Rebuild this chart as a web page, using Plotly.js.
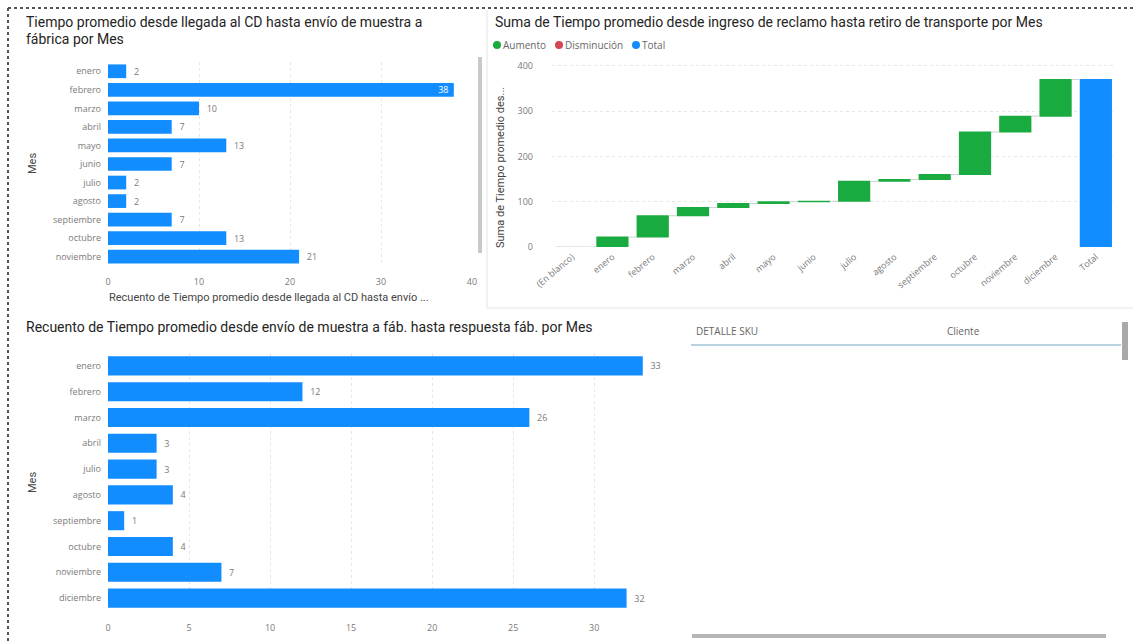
<!DOCTYPE html>
<html>
<head>
<meta charset="utf-8">
<script src="https://cdn.plot.ly/plotly-3.0.1.min.js"></script>
<style>
  html, body { margin: 0; padding: 0; background: #ffffff; }
  #tablero { width: 1133px; height: 642px; }
</style>
</head>
<body>
<div id="tablero"></div>
<script>
// Tiempo promedio desde llegada al CD hasta envío de muestra a fábrica
const mesesLlegada = ['enero', 'febrero', 'marzo', 'abril', 'mayo', 'junio', 'julio', 'agosto', 'septiembre', 'octubre', 'noviembre'];
const recuentoLlegada = [2, 38, 10, 7, 13, 7, 2, 2, 7, 13, 21];

// Suma de tiempo promedio desde ingreso de reclamo hasta retiro de transporte
const mesesReclamo = ['(En blanco)', 'enero', 'febrero', 'marzo', 'abril', 'mayo', 'junio', 'julio', 'agosto', 'septiembre', 'octubre', 'noviembre', 'diciembre'];
const sumaReclamo = [0, 22, 47, 18, 9, 4, 1, 44, 4, 11, 94, 35, 81];
const etiquetaTotal = 'Total';
const leyendaCascada = ['Aumento', 'Disminución', 'Total'];

// Recuento de tiempo promedio desde envío de muestra a fábrica hasta respuesta
const mesesRespuesta = ['enero', 'febrero', 'marzo', 'abril', 'julio', 'agosto', 'septiembre', 'octubre', 'noviembre', 'diciembre'];
const recuentoRespuesta = [33, 12, 26, 3, 3, 4, 1, 4, 7, 32];

// Columnas de la tabla de detalle
const columnasDetalle = ['DETALLE SKU', 'Cliente'];

// ---- geometry helpers (pixels -> paper) ----
const W = 1133, H = 642;
const px = x => x / W;
const py = y => 1 - y / H;

const AZUL = '#118DFF';
const VERDE = '#1AAB40';
const ROJO = '#D64554';
const GRIS_TXT = '#7a7a7a';
const TITULO = { family: 'Roboto, "Open Sans", sans-serif', size: 14, color: '#252423' };
const TICKS = { family: '"Open Sans", sans-serif', size: 9, color: GRIS_TXT };
const ETIQUETA = { family: '"Open Sans", sans-serif', size: 9, color: GRIS_TXT };

const total = sumaReclamo.reduce((a, b) => a + b, 0);
const xCascada = mesesReclamo.concat([etiquetaTotal]);
const yCascada = sumaReclamo.concat([total]);
const medidas = sumaReclamo.map(() => 'relative').concat(['total']);

const maxLlegada = 40;
const posLlegada = recuentoLlegada.map(v => (v / maxLlegada > 0.9 ? 'inside' : 'outside'));
const textoLlegada = recuentoLlegada.map((v, i) => (posLlegada[i] === 'inside' ? String(v) + '\u00a0' : '\u00a0\u00a0' + v));

const traces = [
  {
    type: 'bar', orientation: 'h',
    x: recuentoLlegada, y: mesesLlegada,
    xaxis: 'x', yaxis: 'y',
    marker: { color: AZUL },
    text: textoLlegada,
    textposition: posLlegada,
    textangle: 0,
    constraintext: 'none',
    insidetextanchor: 'end',
    insidetextfont: { family: '"Open Sans", sans-serif', size: 9, color: '#ffffff' },
    outsidetextfont: ETIQUETA,
    cliponaxis: false,
    hoverinfo: 'skip'
  },
  {
    type: 'waterfall',
    x: xCascada, y: yCascada, measure: medidas,
    xaxis: 'x2', yaxis: 'y2',
    increasing: { marker: { color: VERDE } },
    decreasing: { marker: { color: ROJO } },
    totals: { marker: { color: AZUL } },
    connector: { line: { color: '#cfcfcf', width: 1 }, mode: 'between' },
    textinfo: 'none',
    hoverinfo: 'skip'
  },
  {
    type: 'bar', orientation: 'h',
    x: recuentoRespuesta, y: mesesRespuesta,
    xaxis: 'x3', yaxis: 'y3',
    marker: { color: AZUL },
    text: recuentoRespuesta.map(v => '\u00a0\u00a0' + v),
    textposition: 'outside',
    textangle: 0,
    constraintext: 'none',
    outsidetextfont: ETIQUETA,
    cliponaxis: false,
    hoverinfo: 'skip'
  }
];

const ejeValor = {
  showgrid: true, gridcolor: '#e6e6e6', griddash: 'dot', gridwidth: 1,
  zeroline: false, showline: false, ticks: '',
  tickfont: TICKS, fixedrange: true
};
const ejeCategoria = {
  type: 'category', autorange: 'reversed', showgrid: false, zeroline: false,
  showline: false, ticks: '', tickfont: TICKS, ticklabelstandoff: 6, fixedrange: true
};

const annotations = [
  // titles
  { text: 'Tiempo promedio desde llegada al CD hasta envío de muestra a', x: px(24), y: py(22) },
  { text: 'fábrica por Mes', x: px(24), y: py(39) },
  { text: 'Suma de Tiempo promedio desde ingreso de reclamo hasta retiro de transporte por Mes', x: px(493), y: py(22) },
  { text: 'Recuento de Tiempo promedio desde envío de muestra a fáb. hasta respuesta fáb. por Mes', x: px(24), y: py(327) }
].map(a => Object.assign({ xref: 'paper', yref: 'paper', xanchor: 'left', yanchor: 'middle', showarrow: false, font: TITULO }, a));

const tituloEje = { family: 'Roboto, "Open Sans", sans-serif', size: 11, color: '#444444' };
[
  { text: 'Mes', x: px(32), y: py(164), textangle: -90 },
  { text: 'Recuento de Tiempo promedio desde llegada al CD hasta envío ...', x: px(107), y: py(297), xanchor: 'left' },
  { text: 'Suma de Tiempo promedio des...', x: px(500), y: py(168), textangle: -90 },
  { text: 'Mes', x: px(32), y: py(483), textangle: -90 }
].forEach(a => annotations.push(Object.assign({ xref: 'paper', yref: 'paper', showarrow: false, xanchor: 'center', yanchor: 'middle', font: tituloEje }, a)));

// legend of the waterfall: coloured dot + label
const coloresLeyenda = [VERDE, ROJO, AZUL];
const xLeyenda = [497, 559, 636];
const puntosLeyenda = [];
leyendaCascada.forEach((t, i) => {
  annotations.push({
    xref: 'paper', yref: 'paper', showarrow: false, xanchor: 'left', yanchor: 'middle',
    x: px(xLeyenda[i] + 4), y: py(45),
    text: t,
    font: { family: '"Open Sans", sans-serif', size: 10, color: '#666666' }
  });
  puntosLeyenda.push({
    type: 'circle', x0: px(xLeyenda[i] - 4), x1: px(xLeyenda[i] + 4), y0: py(41), y1: py(49),
    fillcolor: coloresLeyenda[i], line: { width: 0 }
  });
});

// table header
columnasDetalle.forEach((c, i) => annotations.push({
  xref: 'paper', yref: 'paper', showarrow: false, xanchor: 'left', yanchor: 'middle',
  x: px([694, 945][i]), y: py(331), text: c,
  font: { family: '"Open Sans", sans-serif', size: 10, color: '#666666' }
}));

const shapes = [
  // dotted frame
  { type: 'line', x0: px(8), x1: px(1133), y0: py(8), y1: py(8), line: { color: '#555555', width: 2, dash: 'dot' } },
  { type: 'line', x0: px(8), x1: px(8), y0: py(8), y1: py(642), line: { color: '#555555', width: 2, dash: 'dot' } },
  // top-right panel border
  { type: 'line', x0: px(487), x1: px(487), y0: py(10), y1: py(308), line: { color: '#e4e4e4', width: 1 } },
  { type: 'line', x0: px(487), x1: px(1133), y0: py(308), y1: py(308), line: { color: '#e4e4e4', width: 1 } },
  // scrollbar of the top-left visual
  { type: 'rect', x0: px(478), x1: px(482), y0: py(57), y1: py(253), fillcolor: '#c9c9c9', line: { width: 0 } },
  // table header rule and scrollbars
  { type: 'line', x0: px(691), x1: px(1121), y0: py(345), y1: py(345), line: { color: '#9fc3d6', width: 1.5 } },
  { type: 'rect', x0: px(1122), x1: px(1128), y0: py(322), y1: py(360), fillcolor: '#a9a9a9', line: { width: 0 } },
  { type: 'rect', x0: px(692), x1: px(1106), y0: py(634), y1: py(638), fillcolor: '#b5b5b5', line: { width: 0 } },
  // zero-height "(En blanco)" step
  { type: 'line', xref: 'x2', yref: 'y2', x0: -0.4, x1: 0.4, y0: 0, y1: 0, line: { color: '#cfcfcf', width: 1 } }
].concat(puntosLeyenda).map(s => Object.assign({ xref: 'paper', yref: 'paper', layer: 'above' }, s));

const layout = {
  width: W, height: H,
  margin: { l: 0, r: 0, t: 0, b: 0 },
  paper_bgcolor: '#ffffff', plot_bgcolor: 'rgba(0,0,0,0)',
  showlegend: false,
  bargap: 0.26,
  font: { family: '"Open Sans", sans-serif' },

  xaxis: Object.assign({}, ejeValor, { domain: [px(108), px(472)], range: [0, maxLlegada], dtick: 10, anchor: 'y', ticklabelstandoff: 9 }),
  yaxis: Object.assign({}, ejeCategoria, { domain: [py(266), py(62)], anchor: 'x', categoryarray: mesesLlegada, categoryorder: 'array' }),

  xaxis2: { domain: [px(552), px(1116)], anchor: 'y2', type: 'category', showgrid: false, zeroline: false, showline: false,
            ticks: '', tickangle: -40, tickfont: TICKS, fixedrange: true, ticklabelstandoff: 2 },
  yaxis2: Object.assign({}, ejeValor, { domain: [py(247), py(60)], anchor: 'x2', range: [0, 413], dtick: 100, ticklabelstandoff: 18 }),

  xaxis3: Object.assign({}, ejeValor, { domain: [px(108), px(659)], range: [0, 34], dtick: 5, anchor: 'y3', ticklabelstandoff: 10 }),
  yaxis3: Object.assign({}, ejeCategoria, { domain: [py(611), py(353)], anchor: 'x3', categoryarray: mesesRespuesta, categoryorder: 'array' }),

  annotations: annotations,
  shapes: shapes
};

Plotly.newPlot('tablero', traces, layout, { staticPlot: true, displayModeBar: false });
</script>
</body>
</html>
